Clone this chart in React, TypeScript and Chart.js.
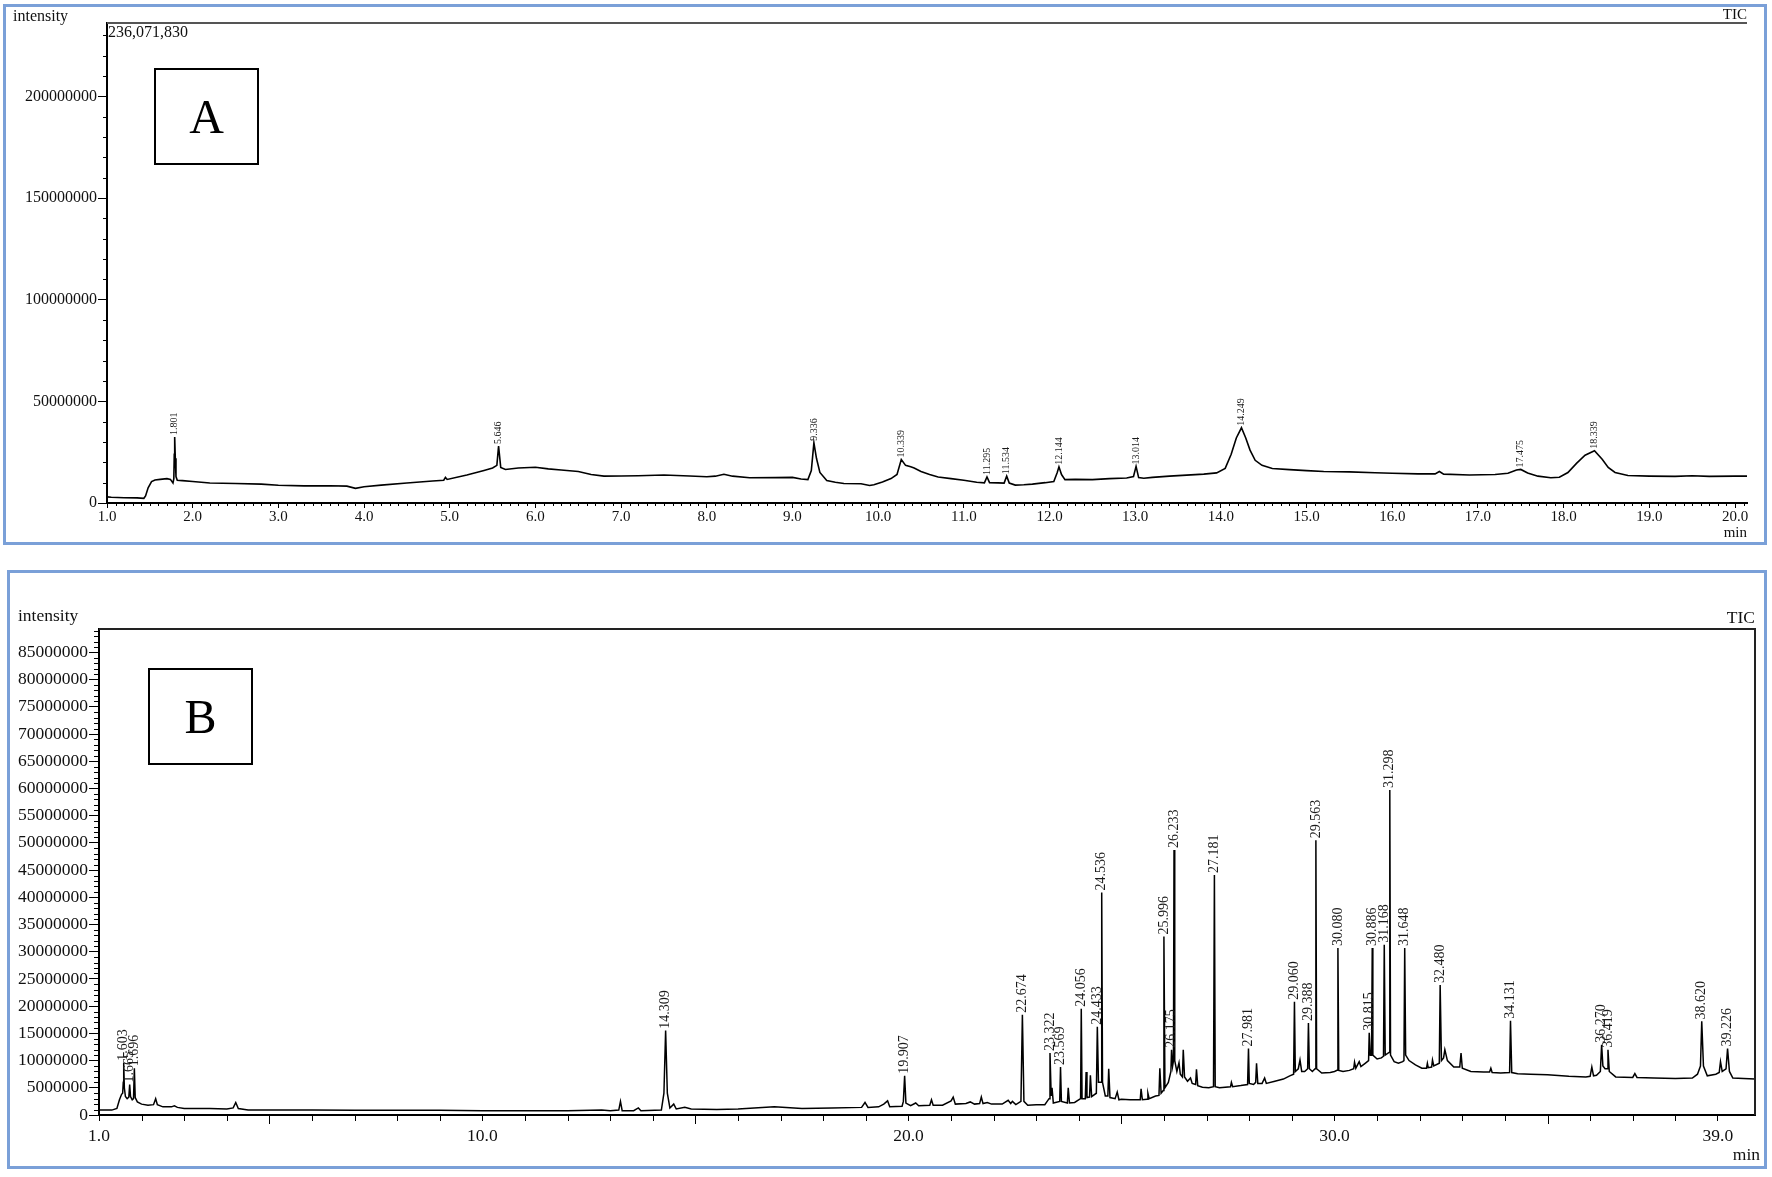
import React, { useEffect, useRef } from 'react';
import { Chart, registerables } from 'chart.js';

Chart.register(...registerables);

const SERIF = '"Liberation Serif", "Times New Roman", serif';

// ---------------- Panel A data (retention time in min, intensity) ----------------
const timeA = [
  1.0, 1.05, 1.2, 1.35, 1.43, 1.45, 1.48, 1.52, 1.56, 1.62, 1.7, 1.74, 1.77, 1.78, 1.785, 1.79, 1.797, 1.805, 1.82, 1.88,
  2.0, 2.2, 2.5, 2.8, 3.0, 3.3, 3.6, 3.8, 3.9, 4.0, 4.2, 4.5, 4.8, 4.93, 4.95, 4.97, 5.2, 5.4, 5.5, 5.55,
  5.57, 5.595, 5.65, 5.8, 6.0, 6.15, 6.3, 6.5, 6.65, 6.8, 7.0, 7.2, 7.5, 7.8, 8.0, 8.1, 8.2, 8.3, 8.5, 8.8,
  9.0, 9.1, 9.18, 9.22, 9.25, 9.28, 9.32, 9.4, 9.5, 9.6, 9.8, 9.9, 9.95, 10.05, 10.15, 10.22, 10.27, 10.32, 10.38, 10.42,
  10.5, 10.6, 10.7, 10.85, 11.0, 11.15, 11.24, 11.27, 11.3, 11.4, 11.47, 11.5, 11.53, 11.6, 11.7, 11.8, 11.95, 12.05, 12.09, 12.11,
  12.14, 12.18, 12.3, 12.5, 12.7, 12.9, 12.98, 13.01, 13.04, 13.1, 13.2, 13.4, 13.6, 13.8, 13.95, 14.05, 14.12, 14.18, 14.24, 14.29,
  14.34, 14.4, 14.48, 14.6, 14.8, 15.0, 15.2, 15.5, 15.8, 16.0, 16.3, 16.5, 16.55, 16.6, 16.9, 17.2, 17.35, 17.45, 17.5, 17.58,
  17.7, 17.85, 17.95, 18.05, 18.15, 18.25, 18.36, 18.45, 18.52, 18.6, 18.75, 19.0, 19.3, 19.5, 19.7, 20.0, 20.14,
];
const intensityA = [
  3.0e6, 2.8e6, 2.6e6, 2.5e6, 2.3e6, 3.5e6, 7.5e6, 10.5e6, 11.3e6, 11.6e6, 12.0e6, 11.6e6, 9.8e6, 12e6, 24e6, 32.5e6, 22e6, 13e6, 11.2e6, 11.0e6,
  10.6e6, 9.8e6, 9.6e6, 9.3e6, 8.7e6, 8.4e6, 8.5e6, 8.3e6, 7.2e6, 8.0e6, 8.8e6, 9.8e6, 10.8e6, 11.2e6, 12.6e6, 11.6e6, 13.8e6, 16.0e6, 17.2e6, 18.5e6,
  28.0e6, 17.5e6, 16.5e6, 17.2e6, 17.6e6, 16.8e6, 16.2e6, 15.5e6, 14.0e6, 13.2e6, 13.3e6, 13.4e6, 13.8e6, 13.3e6, 12.9e6, 13.2e6, 14.1e6, 13.2e6, 12.4e6, 12.5e6,
  12.6e6, 11.8e6, 11.5e6, 16e6, 29.6e6, 22e6, 15e6, 11.0e6, 10.2e6, 9.6e6, 9.5e6, 8.6e6, 9.0e6, 10.3e6, 12.0e6, 14e6, 21.4e6, 18.5e6, 17.8e6, 17.2e6,
  15.5e6, 14e6, 12.8e6, 12.0e6, 11.2e6, 10.2e6, 9.9e6, 12.8e6, 10.0e6, 9.9e6, 9.8e6, 13.2e6, 9.8e6, 8.8e6, 9.0e6, 9.3e6, 10.0e6, 10.6e6, 15e6, 17.8e6,
  14e6, 11.5e6, 11.6e6, 11.5e6, 12.0e6, 12.3e6, 13e6, 18.0e6, 12.5e6, 12.2e6, 12.6e6, 13.2e6, 13.7e6, 14.2e6, 14.8e6, 17.0e6, 24e6, 32e6, 37.0e6, 32e6,
  26e6, 21e6, 18.5e6, 17.0e6, 16.4e6, 15.9e6, 15.5e6, 15.3e6, 14.9e6, 14.6e6, 14.3e6, 14.3e6, 15.5e6, 14.2e6, 13.8e6, 14.0e6, 14.6e6, 16.2e6, 16.5e6, 14.8e6,
  13.2e6, 12.4e6, 12.7e6, 15e6, 19.5e6, 23.5e6, 25.7e6, 21.5e6, 17.5e6, 15.0e6, 13.5e6, 13.2e6, 13.1e6, 13.4e6, 13.1e6, 13.2e6, 13.2e6,
];
const peakTextA = ['1.801', '5.646', '9.336', '10.339', '11.295', '11.534', '12.144', '13.014', '14.249', '17.475', '18.339'];
const peakXA = [1.79, 5.57, 9.25, 10.27, 11.27, 11.5, 12.11, 13.01, 14.24, 17.5, 18.36];
const peakYA = [32.5e6, 28e6, 29.6e6, 21.4e6, 12.8e6, 13.2e6, 17.8e6, 18.0e6, 37.0e6, 16.5e6, 25.7e6];
const xTicksA = [1, 2, 3, 4, 5, 6, 7, 8, 9, 10, 11, 12, 13, 14, 15, 16, 17, 18, 19, 20];
const yTicksA = [0, 50000000, 100000000, 150000000, 200000000];

// ---------------- Panel B data ----------------
const timeB = [
  1.0, 1.3, 1.42, 1.48, 1.53, 1.555, 1.57, 1.58, 1.595, 1.62, 1.66, 1.7, 1.72, 1.74, 1.78, 1.81, 1.83, 1.85, 1.9, 2.0,
  2.15, 2.28, 2.33, 2.37, 2.5, 2.7, 2.77, 2.84, 3.0, 3.4, 3.6, 4.0, 4.15, 4.21, 4.27, 4.5, 5.0, 6.0, 7.0, 8.0,
  9.0, 10.0, 11.0, 12.0, 12.8, 13.0, 13.2, 13.24, 13.28, 13.55, 13.66, 13.72, 14.2, 14.26, 14.3, 14.34, 14.4, 14.49, 14.55, 14.75,
  14.9, 15.5, 16.0, 16.85, 17.5, 18.2, 18.9, 18.98, 19.05, 19.3, 19.42, 19.51, 19.56, 19.85, 19.88, 19.91, 19.94, 20.05, 20.17, 20.24,
  20.5, 20.54, 20.58, 20.8, 21.0, 21.05, 21.1, 21.35, 21.45, 21.55, 21.67, 21.71, 21.75, 21.85, 21.95, 22.2, 22.34, 22.4, 22.44, 22.52,
  22.64, 22.674, 22.71, 22.8, 23.0, 23.2, 23.3, 23.322, 23.35, 23.37, 23.4, 23.55, 23.569, 23.59, 23.73, 23.75, 23.78, 23.9, 24.04, 24.056,
  24.075, 24.15, 24.17, 24.19, 24.25, 24.27, 24.3, 24.41, 24.433, 24.46, 24.52, 24.536, 24.555, 24.62, 24.68, 24.7, 24.73, 24.85, 24.9, 24.94,
  25.0, 25.2, 25.44, 25.46, 25.49, 25.6, 25.62, 25.65, 25.8, 25.88, 25.9, 25.93, 25.98, 25.996, 26.02, 26.1, 26.16, 26.175, 26.2, 26.22,
  26.233, 26.25, 26.3, 26.35, 26.38, 26.43, 26.45, 26.48, 26.55, 26.62, 26.66, 26.74, 26.76, 26.79, 26.9, 27.05, 27.16, 27.181, 27.2, 27.3,
  27.56, 27.58, 27.61, 27.8, 27.96, 27.981, 28.0, 28.1, 28.15, 28.17, 28.2, 28.3, 28.36, 28.4, 28.6, 28.8, 28.95, 29.04, 29.06, 29.08,
  29.15, 29.19, 29.23, 29.3, 29.37, 29.388, 29.41, 29.48, 29.545, 29.563, 29.58, 29.7, 29.9, 30.0, 30.06, 30.08, 30.1, 30.2, 30.35, 30.45,
  30.47, 30.5, 30.58, 30.62, 30.72, 30.8, 30.815, 30.84, 30.87, 30.886, 30.9, 31.0, 31.1, 31.15, 31.168, 31.19, 31.28, 31.298, 31.315, 31.4,
  31.5, 31.6, 31.63, 31.648, 31.67, 31.75, 31.9, 32.05, 32.16, 32.18, 32.2, 32.28, 32.3, 32.33, 32.46, 32.48, 32.51, 32.56, 32.59, 32.65,
  32.8, 32.94, 32.97, 33.0, 33.2, 33.5, 33.64, 33.67, 33.7, 33.9, 34.11, 34.131, 34.16, 34.3, 34.6, 35.0, 35.5, 35.9, 36.0, 36.04,
  36.08, 36.15, 36.24, 36.27, 36.3, 36.35, 36.4, 36.419, 36.45, 36.6, 37.0, 37.05, 37.1, 37.5, 38.0, 38.4, 38.52, 38.59, 38.62, 38.66,
  38.75, 38.95, 39.03, 39.06, 39.1, 39.19, 39.226, 39.27, 39.35, 39.6, 39.87,
];
const intensityB = [
  0.9e6, 0.9e6, 1.2e6, 2.8e6, 3.8e6, 4.0e6, 6e6, 9.6e6, 5e6, 3.4e6, 3.0e6, 3.3e6, 5.6e6, 3.4e6, 2.8e6, 3.0e6, 8.6e6, 3.2e6, 2.4e6, 2.0e6,
  1.8e6, 1.9e6, 3.0e6, 1.9e6, 1.5e6, 1.5e6, 1.7e6, 1.4e6, 1.2e6, 1.2e6, 1.2e6, 1.1e6, 1.3e6, 2.3e6, 1.2e6, 0.9e6, 0.9e6, 0.9e6, 0.85e6, 0.85e6,
  0.85e6, 0.8e6, 0.8e6, 0.8e6, 0.9e6, 0.8e6, 0.9e6, 2.5e6, 0.8e6, 0.8e6, 1.3e6, 0.8e6, 0.9e6, 4e6, 15.5e6, 4e6, 1.3e6, 2.0e6, 1.1e6, 1.4e6,
  1.1e6, 1.0e6, 1.1e6, 1.5e6, 1.2e6, 1.3e6, 1.4e6, 2.3e6, 1.4e6, 1.5e6, 2.0e6, 2.6e6, 1.5e6, 1.6e6, 2.5e6, 7.2e6, 2.2e6, 1.7e6, 2.2e6, 1.7e6,
  1.8e6, 2.8e6, 1.8e6, 1.8e6, 2.6e6, 3.3e6, 2.0e6, 2.1e6, 2.4e6, 2.0e6, 2.1e6, 3.3e6, 2.1e6, 2.3e6, 2.0e6, 2.0e6, 2.7e6, 2.1e6, 2.5e6, 1.9e6,
  2.5e6, 18.4e6, 2.5e6, 1.8e6, 1.9e6, 1.9e6, 3e6, 11.4e6, 3.5e6, 5.0e6, 2.2e6, 2.5e6, 8.8e6, 2.5e6, 2.2e6, 5.0e6, 2.2e6, 2.3e6, 3e6, 19.5e6,
  3.0e6, 3e6, 7.9e6, 3.2e6, 3.3e6, 7.3e6, 3.4e6, 4e6, 16.2e6, 6e6, 6e6, 40.9e6, 6e6, 3.5e6, 3.5e6, 8.5e6, 3.2e6, 3.0e6, 4.2e6, 2.8e6,
  2.9e6, 2.8e6, 2.8e6, 4.8e6, 2.8e6, 2.9e6, 4.0e6, 3.0e6, 3.5e6, 3.6e6, 8.6e6, 4.0e6, 4.5e6, 32.8e6, 5.0e6, 6e6, 8e6, 12e6, 9e6, 10e6,
  48.7e6, 10e6, 8e6, 9.6e6, 7.5e6, 7e6, 12.0e6, 7e6, 6.2e6, 6.8e6, 5.8e6, 5.6e6, 8.4e6, 5.4e6, 5.1e6, 5.0e6, 5.2e6, 44.1e6, 5.2e6, 5.0e6,
  5.2e6, 6.0e6, 5.2e6, 5.4e6, 5.6e6, 12.2e6, 5.8e6, 5.6e6, 6e6, 9.5e6, 5.8e6, 5.8e6, 6.8e6, 5.8e6, 6.2e6, 6.6e6, 7.2e6, 7.5e6, 20.8e6, 8e6,
  8.5e6, 10.1e6, 8e6, 8e6, 8.5e6, 16.9e6, 8.5e6, 8.0e6, 8.5e6, 50.5e6, 8.5e6, 7.7e6, 7.8e6, 8.0e6, 8.2e6, 30.7e6, 8.2e6, 8.0e6, 8.2e6, 8.5e6,
  9.7e6, 8.6e6, 9.8e6, 8.9e6, 9.5e6, 10e6, 15.1e6, 11e6, 11e6, 30.7e6, 11e6, 10.3e6, 10.5e6, 10.8e6, 31.3e6, 11e6, 11.5e6, 59.7e6, 11e6, 9.8e6,
  9.5e6, 9.8e6, 10e6, 30.7e6, 11e6, 10.0e6, 9.2e6, 8.6e6, 8.6e6, 9.5e6, 8.7e6, 8.8e6, 10.1e6, 9.0e6, 9.5e6, 23.9e6, 10e6, 10.5e6, 12.0e6, 10e6,
  8.8e6, 8.8e6, 11.4e6, 8.6e6, 8.0e6, 7.9e6, 7.9e6, 8.6e6, 7.8e6, 7.7e6, 7.8e6, 17.3e6, 7.8e6, 7.6e6, 7.5e6, 7.4e6, 7.1e6, 7.0e6, 7.1e6, 8.8e6,
  7.2e6, 7.3e6, 8e6, 12.9e6, 9e6, 8.5e6, 8.5e6, 12.0e6, 8e6, 7.0e6, 6.9e6, 7.6e6, 6.9e6, 6.8e6, 6.7e6, 6.8e6, 7.5e6, 9e6, 17.2e6, 9e6,
  7.2e6, 7.5e6, 7.8e6, 9.8e6, 8e6, 8.5e6, 12.2e6, 8e6, 6.8e6, 6.7e6, 6.6e6,
];
const peakTextB = [
  '1.603', '1.665', '1.696', '14.309', '19.907', '22.674', '23.322', '23.569', '24.056', '24.433', '24.536',
  '25.996', '26.175', '26.233', '27.181', '27.981', '29.060', '29.388', '29.563', '30.080', '30.815', '30.886',
  '31.168', '31.298', '31.648', '32.480', '34.131', '36.270', '36.419', '38.620', '39.226',
];
const peakXB = [
  1.58, 1.72, 1.83, 14.3, 19.91, 22.674, 23.322, 23.569, 24.056, 24.433, 24.536,
  25.996, 26.175, 26.233, 27.181, 27.981, 29.06, 29.388, 29.563, 30.08, 30.815, 30.886,
  31.168, 31.298, 31.648, 32.48, 34.131, 36.27, 36.419, 38.62, 39.226,
];
const peakYB = [
  9.6e6, 5.6e6, 8.6e6, 15.5e6, 7.2e6, 18.4e6, 11.4e6, 8.8e6, 19.5e6, 16.2e6, 40.9e6,
  32.8e6, 12e6, 48.7e6, 44.1e6, 12.2e6, 20.8e6, 16.9e6, 50.5e6, 30.7e6, 15.1e6, 30.7e6,
  31.3e6, 59.7e6, 30.7e6, 23.9e6, 17.3e6, 12.9e6, 12.0e6, 17.2e6, 12.2e6,
];
const xTicksB = [1, 10, 20, 30, 39];
const yTicksB = [
  0, 5000000, 10000000, 15000000, 20000000, 25000000, 30000000, 35000000, 40000000, 45000000,
  50000000, 55000000, 60000000, 65000000, 70000000, 75000000, 80000000, 85000000,
];

// ---------------- helpers ----------------
function range(start: number, stop: number, step: number): number[] {
  const out: number[] = [];
  const n = Math.round((stop - start) / step);
  for (let i = 0; i <= n; i++) out.push(+(start + i * step).toFixed(4));
  return out;
}

type Minor = { v: number; len: number };

function makeDecor(opts: {
  frameColor: string;
  frameWidth: number;
  rightFrame: boolean;
  xMinor: Minor[];
  yMinor: Minor[];
  texts: string[];
  xs: number[];
  ys: number[];
  labelFont: string;
  gap: number;
}) {
  return {
    id: 'decor',
    afterDatasetsDraw(chart: any) {
      const { ctx, chartArea, scales } = chart;
      const xs = scales.x;
      const ys = scales.y;
      ctx.save();
      // frame (top / right)
      ctx.strokeStyle = opts.frameColor;
      ctx.lineWidth = opts.frameWidth;
      ctx.beginPath();
      ctx.moveTo(chartArea.left, chartArea.top);
      ctx.lineTo(chartArea.right, chartArea.top);
      if (opts.rightFrame) ctx.lineTo(chartArea.right, chartArea.bottom);
      ctx.stroke();
      // minor ticks
      ctx.strokeStyle = '#000';
      ctx.lineWidth = 1;
      ctx.beginPath();
      for (const t of opts.xMinor) {
        const px = Math.round(xs.getPixelForValue(t.v)) + 0.5;
        ctx.moveTo(px, chartArea.bottom);
        ctx.lineTo(px, chartArea.bottom + t.len);
      }
      for (const t of opts.yMinor) {
        const py = Math.round(ys.getPixelForValue(t.v)) + 0.5;
        ctx.moveTo(chartArea.left, py);
        ctx.lineTo(chartArea.left - t.len, py);
      }
      ctx.stroke();
      // peak labels
      ctx.font = opts.labelFont;
      ctx.fillStyle = '#1a1a1a';
      ctx.textAlign = 'left';
      ctx.textBaseline = 'middle';
      opts.texts.forEach((txt, i) => {
        const px = xs.getPixelForValue(opts.xs[i]);
        const py = ys.getPixelForValue(opts.ys[i]);
        ctx.save();
        ctx.translate(px, py - opts.gap);
        ctx.rotate(-Math.PI / 2);
        ctx.fillText(txt, 0, 0);
        ctx.restore();
      });
      ctx.restore();
    },
  };
}

function makeConfig(p: {
  times: number[];
  values: number[];
  xMin: number;
  xMax: number;
  yMax: number;
  xTicks: number[];
  yTicks: number[];
  padding: any;
  yWidth: number;
  xHeight: number;
  xFont: number;
  yFont: number;
  xTickLen: number;
  xPad: number;
  yTickLen: number;
  yPad: number;
  lineWidth: number;
  decor: any;
}) {
  return {
    type: 'line',
    data: {
      datasets: [
        {
          data: p.times.map((t, i) => ({ x: t, y: p.values[i] })),
          borderColor: '#000',
          borderWidth: p.lineWidth,
          pointRadius: 0,
          tension: 0,
          fill: false,
        },
      ],
    },
    options: {
      animation: false,
      responsive: false,
      devicePixelRatio: 1,
      events: [],
      layout: { padding: p.padding },
      plugins: { legend: { display: false }, tooltip: { enabled: false } },
      scales: {
        x: {
          type: 'linear',
          min: p.xMin,
          max: p.xMax,
          afterFit: (s: any) => {
            s.height = p.xHeight;
          },
          afterBuildTicks: (s: any) => {
            s.ticks = p.xTicks.map((v) => ({ value: v }));
          },
          ticks: {
            autoSkip: false,
            maxRotation: 0,
            minRotation: 0,
            padding: p.xPad,
            color: '#111',
            font: { family: SERIF, size: p.xFont },
            callback: (v: any) => Number(v).toFixed(1),
          },
          grid: { display: true, drawOnChartArea: false, drawTicks: true, tickLength: p.xTickLen, color: '#000', lineWidth: 1 },
          border: { display: true, color: '#000', width: 2 },
        },
        y: {
          type: 'linear',
          min: 0,
          max: p.yMax,
          afterFit: (s: any) => {
            s.width = p.yWidth;
          },
          afterBuildTicks: (s: any) => {
            s.ticks = p.yTicks.map((v) => ({ value: v }));
          },
          ticks: {
            autoSkip: false,
            padding: p.yPad,
            color: '#111',
            font: { family: SERIF, size: p.yFont },
            callback: (v: any) => String(v),
          },
          grid: { display: true, drawOnChartArea: false, drawTicks: true, tickLength: p.yTickLen, color: '#000', lineWidth: 1 },
          border: { display: true, color: '#000', width: 2 },
        },
      },
    },
    plugins: [makeDecor(p.decor)],
  };
}

function ChartCanvas({ config, left, top, width, height }: any) {
  const ref = useRef<HTMLCanvasElement>(null);
  useEffect(() => {
    const chart = new Chart(ref.current as HTMLCanvasElement, config);
    return () => chart.destroy();
  }, []);
  return (
    <canvas
      ref={ref}
      width={width}
      height={height}
      style={{ position: 'absolute', left, top, width, height }}
    />
  );
}

function Txt({ children, left, right, top, size, weight }: any) {
  return (
    <div
      style={{
        position: 'absolute',
        left,
        right,
        top,
        fontFamily: SERIF,
        fontSize: size,
        lineHeight: 1,
        color: '#111',
        whiteSpace: 'nowrap',
        fontWeight: weight || 'normal',
      }}
    >
      {children}
    </div>
  );
}

export default function App() {
  const xMinorA: Minor[] = range(1.0, 20.1, 0.1)
    .filter((v) => Math.abs(v - Math.round(v)) > 0.01)
    .map((v) => ({ v, len: 3 }));
  const yMinorA: Minor[] = range(0, 230000000, 10000000)
    .filter((v) => v % 50000000 !== 0)
    .map((v) => ({ v, len: 4 }));
  const xMinorB: Minor[] = range(2, 39, 1)
    .filter((v) => !xTicksB.includes(v))
    .map((v) => ({ v, len: v % 5 === 0 ? 9 : 6 }));
  const yMinorB: Minor[] = range(0, 89000000, 1000000)
    .filter((v) => v % 5000000 !== 0)
    .map((v) => ({ v, len: 5 }));

  const configA = makeConfig({
    times: timeA,
    values: intensityA,
    xMin: 1,
    xMax: 20.14,
    yMax: 236071830,
    xTicks: xTicksA,
    yTicks: yTicksA,
    padding: { left: 0, top: 23, right: 25, bottom: 0 },
    yWidth: 107,
    xHeight: 57,
    xFont: 15,
    yFont: 16,
    xTickLen: 5,
    xPad: 0,
    yTickLen: 9,
    yPad: 1,
    lineWidth: 1.6,
    decor: {
      frameColor: '#555',
      frameWidth: 2,
      rightFrame: false,
      xMinor: xMinorA,
      yMinor: yMinorA,
      texts: peakTextA,
      xs: peakXA,
      ys: peakYA,
      labelFont: `10px ${SERIF}`,
      gap: 2,
    },
  });

  const configB = makeConfig({
    times: timeB,
    values: intensityB,
    xMin: 1,
    xMax: 39.87,
    yMax: 89300000,
    xTicks: xTicksB,
    yTicks: yTicksB,
    padding: { left: 0, top: 69, right: 17, bottom: 0 },
    yWidth: 99,
    xHeight: 62,
    xFont: 17.5,
    yFont: 17.5,
    xTickLen: 6,
    xPad: 5,
    yTickLen: 10,
    yPad: 1,
    lineWidth: 1.5,
    decor: {
      frameColor: '#222',
      frameWidth: 2,
      rightFrame: true,
      xMinor: xMinorB,
      yMinor: yMinorB,
      texts: peakTextB,
      xs: peakXB,
      ys: peakYB,
      labelFont: `14px ${SERIF}`,
      gap: 2,
    },
  });

  const panelBorder = '#7aa0d8';

  return (
    <div style={{ position: 'absolute', left: 0, top: 0, width: 1772, height: 1177, background: '#fff', overflow: 'hidden' }}>
      <ChartCanvas config={configA} left={0} top={0} width={1772} height={560} />
      <ChartCanvas config={configB} left={0} top={560} width={1772} height={617} />

      {/* panel borders */}
      <div style={{ position: 'absolute', left: 3, top: 4, width: 1764, height: 541, border: `3px solid ${panelBorder}`, boxSizing: 'border-box' }} />
      <div style={{ position: 'absolute', left: 7, top: 570, width: 1760, height: 599, border: `3px solid ${panelBorder}`, boxSizing: 'border-box' }} />

      {/* panel A annotations */}
      <Txt left={13} top={8} size={16}>intensity</Txt>
      <Txt right={25} top={7} size={15}>TIC</Txt>
      <Txt left={108} top={24} size={16}>236,071,830</Txt>
      <Txt right={25} top={525} size={15}>min</Txt>
      <div style={{ position: 'absolute', left: 154, top: 68, width: 105, height: 97, border: '2px solid #000', boxSizing: 'border-box', display: 'flex', alignItems: 'center', justifyContent: 'center', fontFamily: SERIF, fontSize: 48, color: '#000' }}>A</div>

      {/* panel B annotations */}
      <Txt left={18} top={607} size={17.5}>intensity</Txt>
      <Txt right={17} top={609} size={17.5}>TIC</Txt>
      <Txt right={12} top={1146} size={17.5}>min</Txt>
      <div style={{ position: 'absolute', left: 148, top: 668, width: 105, height: 97, border: '2px solid #000', boxSizing: 'border-box', display: 'flex', alignItems: 'center', justifyContent: 'center', fontFamily: SERIF, fontSize: 48, color: '#000' }}>B</div>
    </div>
  );
}
